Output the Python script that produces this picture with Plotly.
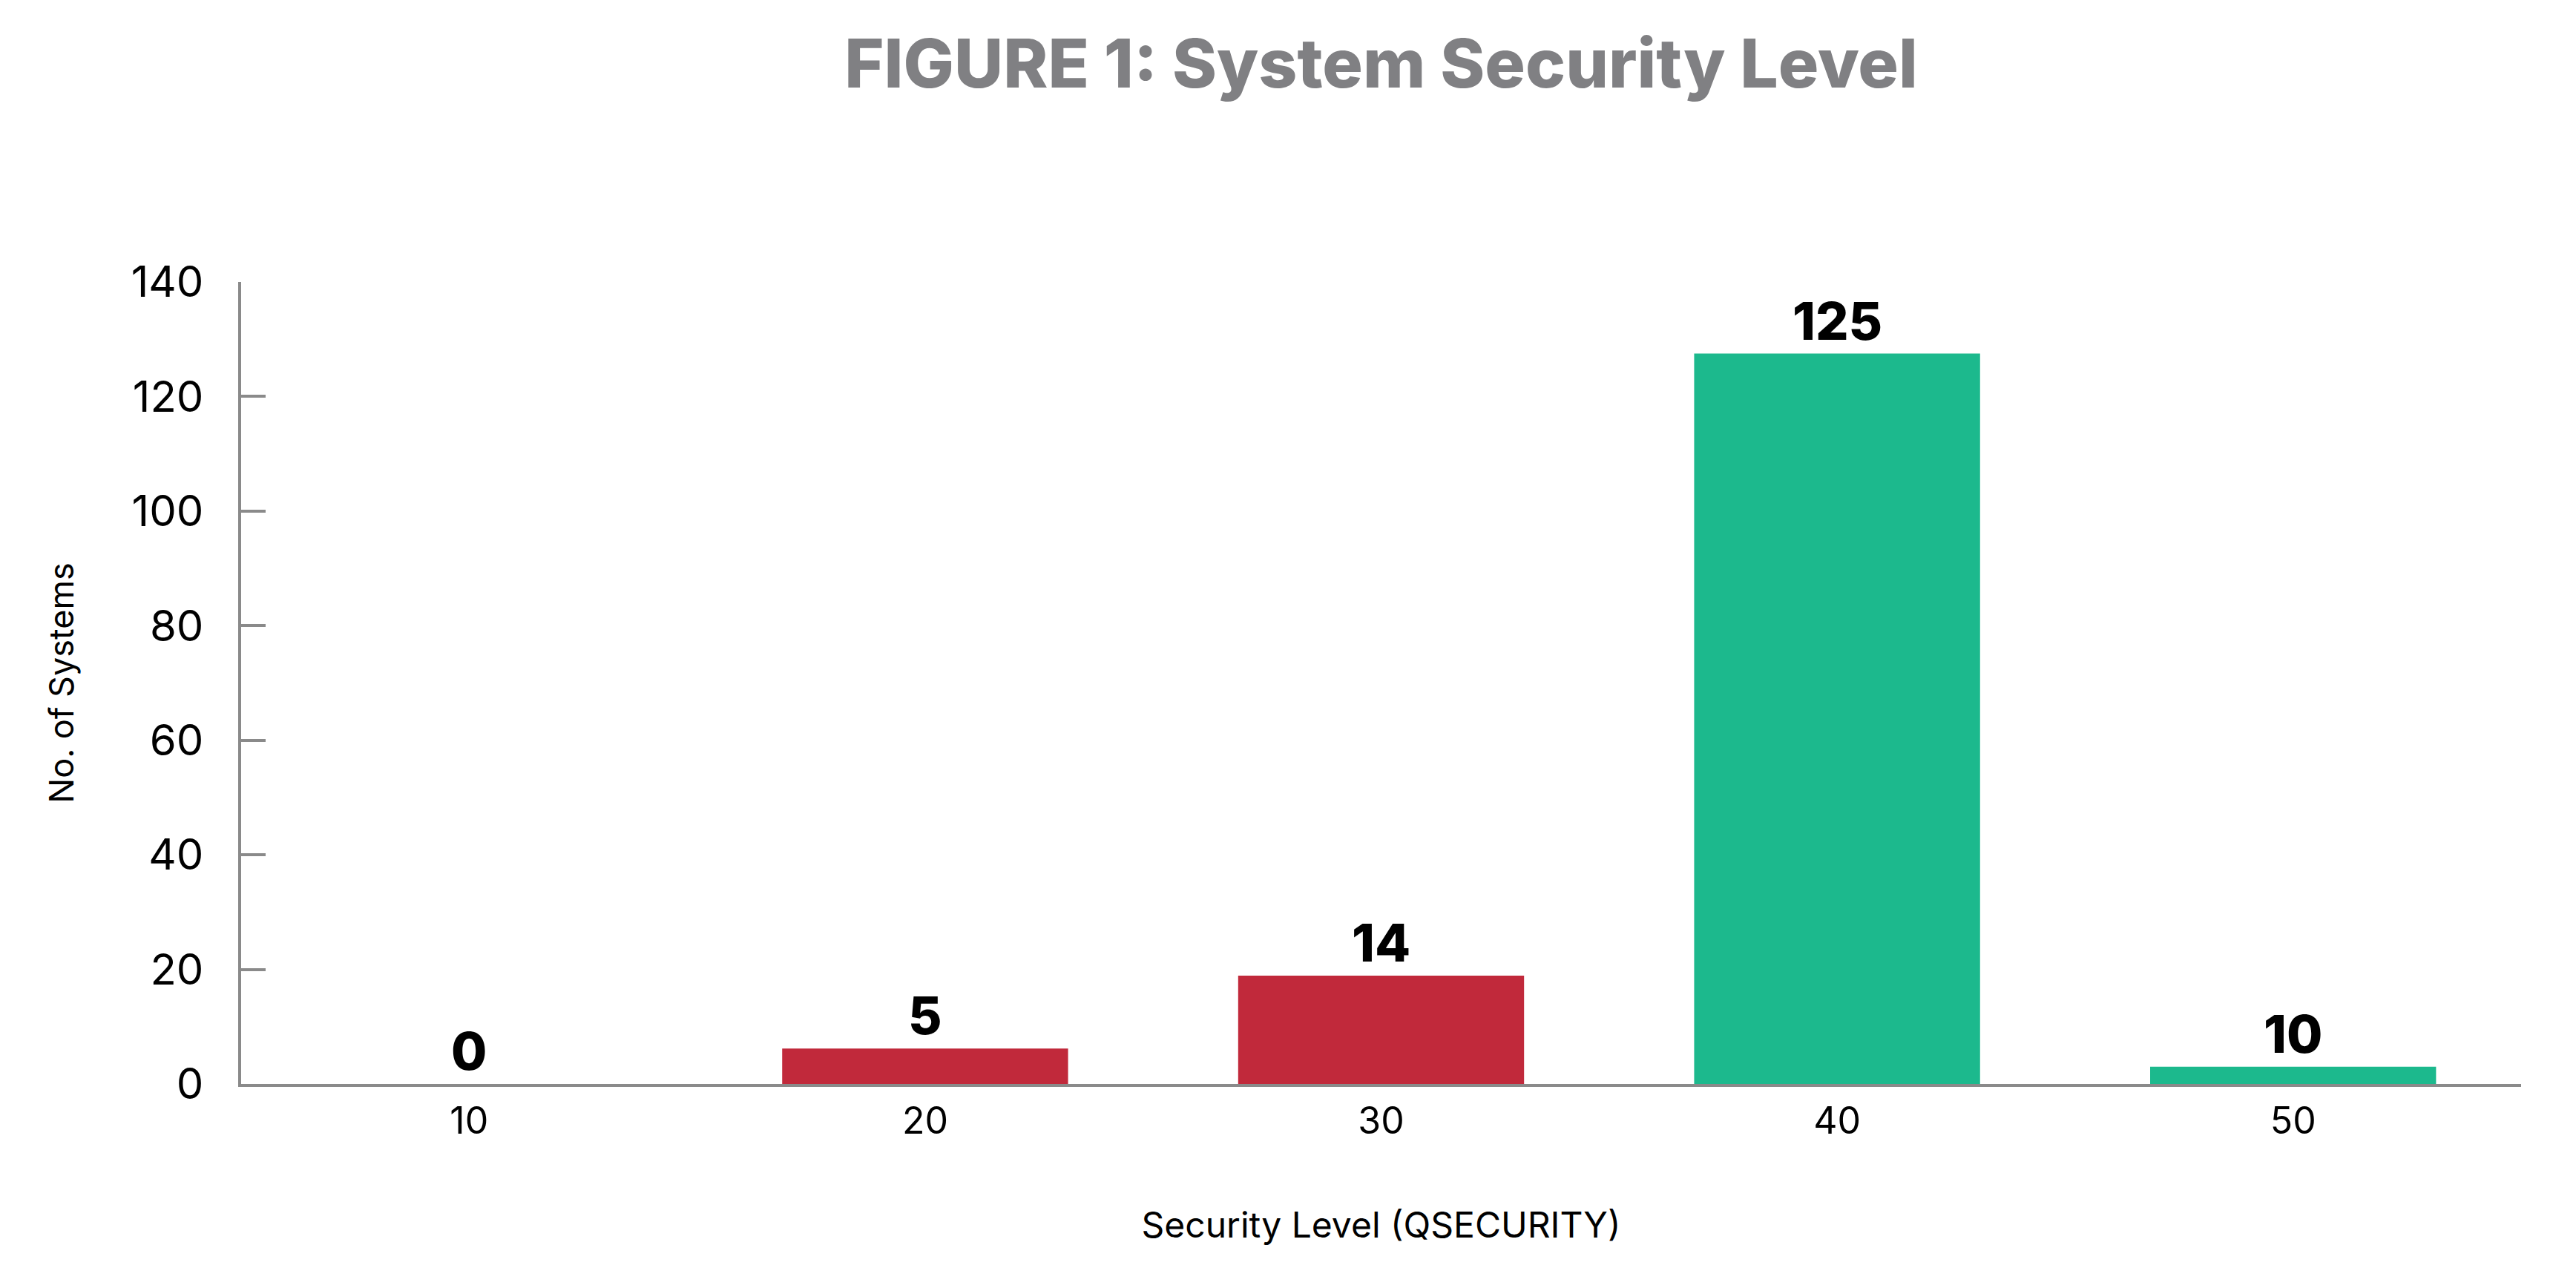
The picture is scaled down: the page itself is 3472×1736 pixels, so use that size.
import plotly.graph_objects as go

# ---- data ----
categories = ["10", "20", "30", "40", "50"]
bar_heights = [0, 6.2, 18.9, 127.5, 3.0]
value_labels = ["0", "5", "14", "125", "10"]
bar_colors = ["#C1293B", "#C1293B", "#C1293B", "#1CB98D", "#1CB98D"]
y_ticks = [0, 20, 40, 60, 80, 100, 120, 140]

FONT = "Inter"
AXIS_GRAY = "#8A8A8A"

fig = go.Figure()
fig.add_trace(go.Bar(
    x=categories,
    y=bar_heights,
    marker=dict(color=bar_colors, line=dict(width=0)),
    hoverinfo="skip",
))

for i, (h, t) in enumerate(zip(bar_heights, value_labels)):
    fig.add_annotation(
        x=i, y=h, xref="x", yref="y", text=t,
        showarrow=False, yanchor="bottom", yshift=0,
        font=dict(family=FONT, size=70, color="#000000", weight=800),
    )

fig.update_layout(
    width=3472, height=1736,
    margin=dict(l=317, r=82, t=372, b=283),
    paper_bgcolor="white", plot_bgcolor="white",
    bargap=0.373,
    showlegend=False,
    title=dict(
        text="FIGURE 1: System Security Level",
        font=dict(family=FONT, size=91, color="#808083", weight=800),
        x=0.5, xref="paper", xanchor="center",
        y=1 - 78 / 1736, yref="container", yanchor="middle",
    ),
    font=dict(family=FONT, color="#000000"),
)

fig.update_xaxes(
    type="category",
    range=[-0.5, 4.5],
    showline=True, linecolor=AXIS_GRAY, linewidth=4,
    ticks="", showgrid=False, zeroline=False,
    tickfont=dict(family=FONT, size=50, color="#000000"),
    ticklabelstandoff=3,
    title=dict(text="Security Level (QSECURITY)",
               font=dict(family=FONT, size=48, color="#000000"),
               standoff=96),
)

fig.update_yaxes(
    range=[0, 140],
    tickvals=y_ticks,
    showline=True, linecolor=AXIS_GRAY, linewidth=4,
    ticks="inside", ticklen=33, tickwidth=4, tickcolor=AXIS_GRAY,
    showgrid=False, zeroline=False,
    tickfont=dict(family=FONT, size=58, color="#000000"),
    ticklabelstandoff=35,
    title=dict(text="No. of Systems",
               font=dict(family=FONT, size=45, color="#000000"),
               standoff=64),
)

fig.write_html("out.html")
